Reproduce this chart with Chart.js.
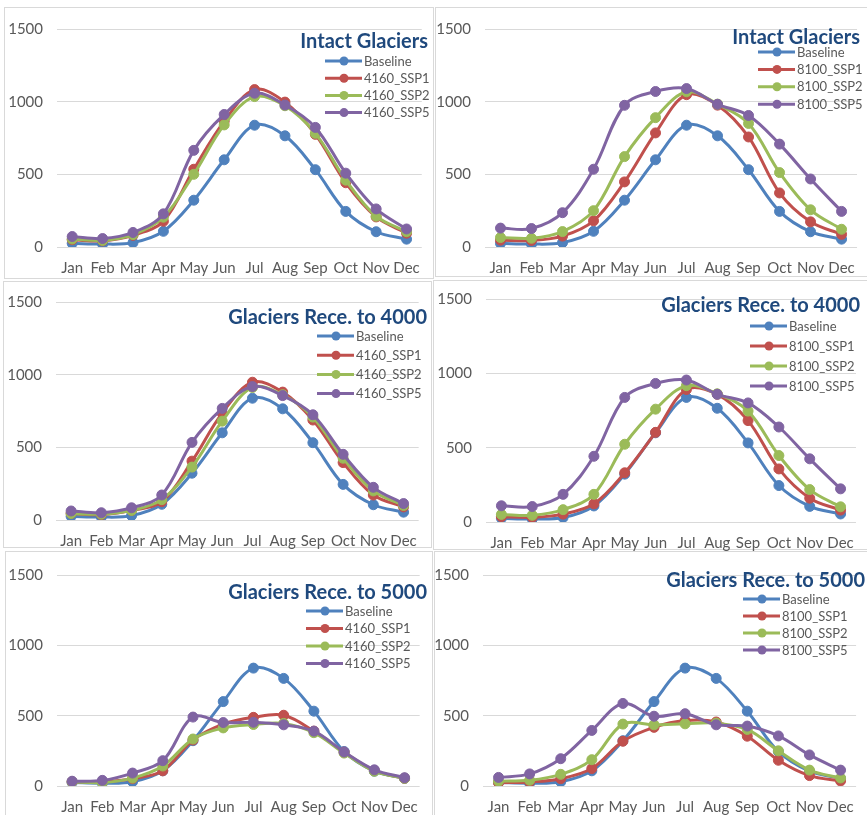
<!DOCTYPE html>
<html>
<head>
<meta charset="utf-8">
<script src="https://cdn.jsdelivr.net/npm/chart.js@4.4.0/dist/chart.umd.min.js"></script>
<style>
  html, body { margin: 0; padding: 0; background: #fff; }
  body { width: 867px; height: 815px; position: relative; overflow: hidden; }
  .frame { position: absolute; border: 1px solid #d9d9d9; box-sizing: border-box; }
  canvas { position: absolute; }
</style>
</head>
<body>
<script>
// data
const months = ['Jan', 'Feb', 'Mar', 'Apr', 'May', 'Jun', 'Jul', 'Aug', 'Sep', 'Oct', 'Nov', 'Dec'];
const yTicks = [0, 500, 1000, 1500];
const baseline = [25, 20, 30, 108, 322, 600, 838, 765, 532, 245, 105, 54];

const intact4160Ssp1 = [50, 42, 80, 177, 535, 865, 1083, 997, 775, 442, 207, 95];
const intact4160Ssp2 = [55, 45, 85, 205, 500, 840, 1035, 972, 782, 460, 212, 105];
const intact4160Ssp5 = [72, 58, 100, 228, 665, 912, 1058, 977, 823, 508, 262, 124];

const intact8100Ssp1 = [47, 45, 75, 180, 448, 785, 1048, 976, 757, 372, 173, 87];
const intact8100Ssp2 = [65, 60, 106, 250, 622, 890, 1068, 983, 850, 512, 256, 122];
const intact8100Ssp5 = [130, 127, 236, 535, 975, 1070, 1090, 982, 905, 708, 468, 245];

const rece4000_4160Ssp1 = [45, 36, 66, 126, 405, 735, 948, 880, 688, 395, 172, 90];
const rece4000_4160Ssp2 = [45, 40, 66, 140, 364, 680, 912, 862, 708, 425, 200, 100];
const rece4000_4160Ssp5 = [62, 50, 84, 172, 534, 768, 918, 856, 724, 452, 225, 113];

const rece4000_8100Ssp1 = [36, 31, 53, 122, 331, 603, 891, 859, 682, 357, 160, 80];
const rece4000_8100Ssp2 = [51, 45, 83, 186, 523, 759, 917, 862, 746, 447, 218, 102];
const rece4000_8100Ssp5 = [109, 104, 186, 442, 838, 932, 955, 859, 801, 639, 425, 223];

const rece5000_4160Ssp1 = [30, 30, 52, 108, 327, 440, 488, 503, 390, 240, 110, 55];
const rece5000_4160Ssp2 = [30, 25, 56, 142, 334, 413, 437, 445, 379, 234, 105, 55];
const rece5000_4160Ssp5 = [34, 40, 92, 180, 490, 451, 453, 435, 390, 242, 115, 59];

const rece5000_8100Ssp1 = [23, 29, 52, 124, 318, 417, 465, 455, 354, 183, 74, 36];
const rece5000_8100Ssp2 = [34, 41, 83, 187, 440, 435, 442, 447, 402, 250, 113, 57];
const rece5000_8100Ssp5 = [61, 86, 194, 395, 587, 496, 514, 435, 426, 356, 221, 113];

const colors = ['#4f81bd', '#c0504d', '#9bbb59', '#8064a2'];

// page layout (px), one entry per panel
const YW = 50, PAD_TOP = 12, PAD_RIGHT = 2, XH = 32;
const panels = [
  { title: 'Intact Glaciers', prefix: '4160', series: [intact4160Ssp1, intact4160Ssp2, intact4160Ssp5],
    plot: [57, 18, 430, 247], titleAt: [428, 42], legend: [364, 61, 17.2], frame: [4, 7, 434, 279] },
  { title: 'Intact Glaciers', prefix: '8100', series: [intact8100Ssp1, intact8100Ssp2, intact8100Ssp5],
    plot: [485, 18, 865, 247], titleAt: [860, 38], legend: [797, 52, 17.4], frame: [435, 7, 868, 277] },
  { title: 'Glaciers Rece. to 4000', prefix: '4160', series: [rece4000_4160Ssp1, rece4000_4160Ssp2, rece4000_4160Ssp5],
    plot: [56, 291, 427, 520], titleAt: [427, 318], legend: [356, 336, 19.2], frame: [3, 281, 432, 548] },
  { title: 'Glaciers Rece. to 4000', prefix: '8100', series: [rece4000_8100Ssp1, rece4000_8100Ssp2, rece4000_8100Ssp5],
    plot: [486, 288, 864, 522], titleAt: [860, 306], legend: [789, 326, 20], frame: [433, 280, 868, 550] },
  { title: 'Glaciers Rece. to 5000', prefix: '4160', series: [rece5000_4160Ssp1, rece5000_4160Ssp2, rece5000_4160Ssp5],
    plot: [57, 564, 428, 786], titleAt: [427, 593], legend: [345, 611, 17.5], frame: [5, 551, 433, 820] },
  { title: 'Glaciers Rece. to 5000', prefix: '8100', series: [rece5000_8100Ssp1, rece5000_8100Ssp2, rece5000_8100Ssp5],
    plot: [483, 564, 864, 786], titleAt: [865, 581], legend: [782, 599, 17], frame: [434, 551, 868, 820] }
];

// title + legend drawn inside the plot area, like the Excel originals
const overlay = {
  id: 'overlay',
  afterDraw(chart, args, opts) {
    const p = opts.panel, ctx = chart.ctx;
    ctx.save();
    ctx.font = 'bold 20px Lato';
    ctx.fillStyle = '#1f497d';
    ctx.textAlign = 'right';
    ctx.textBaseline = 'middle';
    ctx.fillText(p.title, p.titleAt[0] - p.cx, p.titleAt[1] - p.cy);
    ctx.font = '13px Lato';
    ctx.textAlign = 'left';
    chart.data.datasets.forEach((ds, i) => {
      const x = p.legend[0] - p.cx;
      const y = p.legend[1] - p.cy + i * p.legend[2];
      ctx.strokeStyle = ds.borderColor;
      ctx.lineWidth = 3;
      ctx.beginPath();
      ctx.moveTo(x - 39, y);
      ctx.lineTo(x - 2, y);
      ctx.stroke();
      ctx.fillStyle = ds.borderColor;
      ctx.beginPath();
      ctx.arc(x - 20, y, 4.5, 0, Math.PI * 2);
      ctx.fill();
      ctx.fillStyle = '#595959';
      ctx.fillText(ds.label, x, y + 0.5);
    });
    ctx.restore();
  }
};

panels.forEach(p => {
  const f = document.createElement('div');
  f.className = 'frame';
  f.style.left = p.frame[0] + 'px';
  f.style.top = p.frame[1] + 'px';
  f.style.width = (p.frame[2] - p.frame[0]) + 'px';
  f.style.height = (p.frame[3] - p.frame[1]) + 'px';
  document.body.appendChild(f);
});

panels.forEach(p => {
  const [l, t, r, b] = p.plot;
  p.cx = l - YW;
  p.cy = t - PAD_TOP;
  const canvas = document.createElement('canvas');
  canvas.width = YW + (r - l) + PAD_RIGHT;
  canvas.height = PAD_TOP + (b - t) + XH;
  canvas.style.left = p.cx + 'px';
  canvas.style.top = p.cy + 'px';
  document.body.appendChild(canvas);

  const labels = ['Baseline', p.prefix + '_SSP1', p.prefix + '_SSP2', p.prefix + '_SSP5'];
  const values = [baseline].concat(p.series);

  new Chart(canvas.getContext('2d'), {
    type: 'line',
    data: {
      labels: months,
      datasets: values.map((v, i) => ({
        label: labels[i],
        data: v,
        borderColor: colors[i],
        backgroundColor: colors[i],
        pointBackgroundColor: colors[i],
        pointBorderColor: colors[i],
        borderWidth: 3,
        pointRadius: 5,
        pointBorderWidth: 1,
        tension: 0.35,
        order: 4 - i
      }))
    },
    options: {
      responsive: false,
      animation: false,
      devicePixelRatio: 1,
      layout: { padding: { top: PAD_TOP, right: PAD_RIGHT, left: 0, bottom: 0 } },
      plugins: {
        legend: { display: false },
        tooltip: { enabled: false },
        overlay: { panel: p }
      },
      scales: {
        x: {
          offset: true,
          grid: { display: false, drawTicks: false },
          border: { display: false },
          ticks: { color: '#595959', font: { family: 'Lato', size: 15 }, padding: 12, maxRotation: 0, autoSkip: false },
          afterFit(s) { s.height = XH; }
        },
        y: {
          min: 0,
          max: 1500,
          afterBuildTicks(s) { s.ticks = yTicks.map(v => ({ value: v })); },
          grid: { color: '#d9d9d9', lineWidth: 1, drawTicks: false },
          border: { display: false },
          ticks: { color: '#595959', font: { family: 'Lato', size: 15 }, padding: 14, callback: v => String(v) },
          afterFit(s) { s.width = YW; }
        }
      }
    },
    plugins: [overlay]
  });
});
</script>
</body>
</html>
